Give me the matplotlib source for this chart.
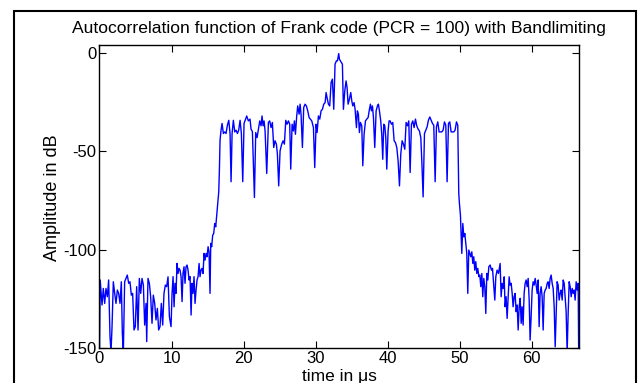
import numpy as np
import matplotlib
matplotlib.use('Agg')
import matplotlib.pyplot as plt
from matplotlib.patches import Rectangle

# Values (time in us, amplitude in dB)
# left sidelobe floor
t_floor_l = [0.0, 0.1, 0.35, 0.53, 0.72, 0.90, 1.09, 1.27, 1.46, 1.60, 1.74, 1.92,
             2.11, 2.29, 2.48, 2.66, 2.85, 3.03, 3.17, 3.31, 3.49, 3.68, 3.86, 4.05,
             4.23, 4.42, 4.60, 4.79, 4.97, 5.16, 5.35, 5.53, 5.72, 5.90, 6.09, 6.27,
             6.46, 6.55, 6.73, 6.92, 7.10, 7.29, 7.47, 7.66, 7.84, 8.03, 8.21, 8.40,
             8.58, 8.77, 8.95, 9.14, 9.32, 9.51, 9.70]
db_floor_l = [-152, -115.3, -128.0, -119.6, -127.2, -119.6, -123.8, -115.3, -144.1, -152,
              -139.0, -116.2, -122.1, -127.2, -120.4, -122.1, -127.2, -116.2, -142.4, -152,
              -116.2, -114.5, -112.8, -117.0, -116.2, -123.0, -122.1, -140.7, -139.0, -118.7,
              -140.7, -114.5, -122.1, -114.5, -117.9, -138.2, -127.2, -146.6, -114.5, -117.0,
              -123.8, -137.3, -123.0, -127.2, -135.6, -129.7, -140.7, -139.0, -127.2, -138.2,
              -122.1, -117.9, -118.7, -113.7, -133.9]

# rising edge
t_rise = [9.93, 10.07, 10.21, 10.35, 10.48, 10.62, 10.76, 10.90, 11.04, 11.18, 11.32,
          11.46, 11.59, 11.73, 11.87, 12.01, 12.15, 12.29, 12.43, 12.57, 12.71, 12.84,
          12.98, 13.12, 13.26, 13.40, 13.54, 13.68, 13.82, 13.95, 14.09, 14.23, 14.37,
          14.51, 14.65, 14.79, 14.93, 15.07, 15.20, 15.34, 15.44, 15.57, 15.71, 15.85,
          15.99, 16.13, 16.27, 16.36, 16.45, 16.55, 16.64, 16.73, 16.87, 17.01, 17.19,
          17.38, 17.56, 17.75, 17.94, 18.12, 18.26, 18.40, 18.58, 18.77, 18.95, 19.14,
          19.32, 19.51, 19.69, 19.88, 20.06]
db_rise = [-139.0, -122.1, -113.6, -128.9, -117.0, -122.1, -106.9, -112.0, -109.4, -110.3,
           -113.6, -126.3, -112.0, -108.6, -117.0, -108.6, -107.7, -110.3, -115.3, -113.6,
           -133.1, -117.0, -122.1, -113.6, -127.2, -120.4, -115.3, -113.6, -106.9, -113.6,
           -110.3, -109.4, -112.0, -101.8, -105.2, -101.8, -103.5, -98.4, -101.0, -122.1,
           -96.7, -98.4, -92.5, -91.7, -86.6, -88.3, -82.4, -79.0, -74.7, -70.5,
           -59.5, -44.3, -39.2, -35.8, -40.9, -40.1, -40.9, -36.7, -34.2, -40.9,
           -65.4, -40.9, -34.2, -40.1, -39.2, -40.9, -39.2, -34.2, -40.9, -65.4, -35.8]

# main part, left half up to the peak
t_main_l = [20.43, 20.66, 20.89, 21.03, 21.22, 21.50, 21.68, 21.87, 22.05, 22.24, 22.42,
            22.56, 22.70, 22.84, 22.98, 23.21, 23.44, 23.62, 23.81, 23.99, 24.18, 24.36,
            24.55, 24.69, 24.87, 25.06, 25.29, 25.48, 25.66, 25.85, 26.03, 26.22, 26.40,
            26.54, 26.73, 26.91, 27.05, 27.19, 27.37, 27.51, 27.70, 27.84, 27.97, 28.16,
            28.34, 28.53, 28.71, 28.90, 29.09, 29.27, 29.46, 29.69, 29.87, 30.06, 30.20,
            30.38, 30.57, 30.75, 30.94, 31.12, 31.31, 31.45, 31.58, 31.77, 31.95, 32.14,
            32.32, 32.51, 32.69, 32.88, 33.02, 33.20]
db_main_l = [-32.0, -34.5, -33.6, -38.7, -39.9, -73.4, -40.4, -43.0, -38.7, -34.5, -37.0,
             -32.0, -37.0, -34.5, -39.6, -61.2, -35.3, -34.5, -37.9, -35.3, -48.0, -44.6,
             -46.3, -51.4, -67.5, -49.7, -46.3, -44.6, -46.3, -34.2, -36.2, -34.5, -36.2,
             -59.0, -36.2, -39.6, -34.5, -41.3, -32.0, -26.9, -31.1, -26.0, -31.1, -48.0,
             -27.7, -26.0, -26.9, -29.4, -32.8, -33.6, -34.5, -37.9, -58.2, -36.2, -40.4,
             -32.0, -33.6, -29.4, -28.6, -26.0, -25.2, -20.1, -22.7, -26.0, -26.9, -15.0,
             -13.3, -28.6, -5.7, -4.0, -4.0, -0.3]

# main part, right half after the peak
t_main_r = [33.30, 33.43, 33.57, 33.71, 33.85, 34.04, 34.22, 34.36, 34.50, 34.68, 34.87,
            35.01, 35.15, 35.33, 35.47, 35.66, 35.79, 35.93, 36.07, 36.21, 36.40, 36.54,
            36.72, 36.91, 37.09, 37.28, 37.46, 37.60, 37.74, 37.88, 38.02, 38.20, 38.39,
            38.57, 38.71, 38.85, 39.03, 39.17, 39.31, 39.45, 39.59, 39.73, 39.87, 40.05,
            40.19, 40.33, 40.52, 40.70, 40.89, 41.07, 41.26, 41.44, 41.63, 41.81, 42.00,
            42.18, 42.37, 42.55, 42.74, 42.92, 43.11, 43.29, 43.48, 43.66, 43.85, 44.03,
            44.22, 44.40, 44.59, 44.73, 44.91, 45.10, 45.28, 45.47, 45.65, 45.84, 46.02,
            46.21, 46.39, 46.58, 46.76, 46.95, 47.13, 47.32, 47.50, 47.69, 47.87, 48.06,
            48.24, 48.43, 48.61, 48.80, 48.98, 49.17, 49.35, 49.54, 49.72]
db_main_r = [-3.2, -4.0, -4.9, -5.7, -28.6, -19.3, -14.2, -17.6, -26.0, -23.5, -20.1,
             -24.3, -26.9, -25.2, -28.6, -37.9, -29.4, -31.1, -40.4, -35.3, -37.0, -57.3,
             -41.3, -34.5, -33.6, -32.8, -28.6, -26.0, -29.4, -26.9, -32.8, -48.0, -29.4,
             -26.9, -26.0, -29.4, -34.5, -41.3, -54.0, -36.2, -37.0, -43.0, -59.0, -39.6,
             -34.5, -34.5, -36.2, -35.3, -44.6, -45.5, -48.0, -54.8, -67.5, -51.4, -44.6,
             -46.3, -48.9, -35.3, -37.0, -34.5, -60.7, -36.2, -34.5, -37.9, -33.6, -37.0,
             -38.7, -39.6, -43.0, -54.8, -73.1, -40.9, -39.2, -37.5, -34.1, -32.5, -34.1,
             -35.8, -36.7, -65.4, -37.5, -35.0, -40.1, -40.1, -40.1, -39.2, -35.0, -36.7,
             -65.4, -35.8, -35.0, -40.1, -40.1, -40.1, -39.2, -35.0, -36.7]

# falling edge and right floor
t_fall = [49.86, 49.95, 50.09, 50.28, 50.42, 50.56, 50.70, 50.83, 50.97, 51.11, 51.25,
          51.39, 51.53, 51.67, 51.81, 51.94, 52.08, 52.22, 52.36, 52.50, 52.64, 52.78,
          52.92, 53.06, 53.19, 53.33, 53.47, 53.61, 53.75, 53.89, 54.03, 54.21, 54.40,
          54.54, 54.72, 54.86, 55.00, 55.18, 55.37]
db_fall = [-71.4, -76.4, -82.4, -101.8, -86.6, -93.4, -91.7, -96.7, -101.8, -122.1, -100.1,
           -101.8, -103.5, -101.0, -106.9, -103.5, -110.3, -106.0, -112.0, -109.4, -113.6,
           -112.8, -118.7, -112.0, -123.8, -114.5, -118.7, -132.3, -112.0, -115.3, -108.6,
           -107.7, -110.3, -109.4, -118.7, -125.5, -113.6, -110.3, -112.0]

t_floor_r = [55.60, 55.74, 55.88, 56.02, 56.16, 56.29, 56.43, 56.57, 56.71, 56.85, 56.99,
             57.13, 57.27, 57.40, 57.54, 57.68, 57.82, 57.96, 58.10, 58.24, 58.38, 58.52,
             58.65, 58.79, 58.93, 59.07, 59.21, 59.35, 59.49, 59.63, 59.76, 59.90, 60.04,
             60.18, 60.32, 60.46, 60.60, 60.74, 60.88, 61.01, 61.15, 61.29, 61.43, 61.57,
             61.71, 61.85, 61.99, 62.13, 62.26, 62.40, 62.54, 62.68, 62.82, 62.96, 63.10,
             63.24, 63.37, 63.51, 63.65, 63.79, 63.93, 64.07, 64.21, 64.35, 64.49, 64.62,
             64.76, 64.90, 65.04, 65.18, 65.32, 65.46, 65.60, 65.73, 65.87, 66.01, 66.15,
             66.29, 66.43, 66.50]
db_floor_r = [-106.9, -123.8, -117.0, -119.6, -113.7, -128.9, -123.8, -134.8, -123.8, -113.7,
              -117.9, -117.0, -122.1, -128.9, -123.8, -122.1, -131.4, -128.0, -140.7, -128.9,
              -124.6, -137.3, -128.9, -138.2, -122.1, -117.0, -115.3, -118.7, -114.5, -125.5,
              -145.8, -134.0, -120.4, -116.2, -117.9, -114.5, -117.9, -122.1, -115.3, -139.0,
              -122.1, -118.7, -123.8, -140.7, -122.1, -120.4, -119.6, -117.0, -116.2, -119.6,
              -114.5, -112.8, -117.0, -119.6, -128.9, -149.2, -134.0, -116.2, -117.9, -125.5,
              -122.1, -120.4, -125.5, -115.3, -117.0, -123.8, -131.4, -152, -132.3, -116.2,
              -118.7, -123.8, -119.6, -122.1, -120.4, -125.5, -116.2, -120.4, -117.0, -152]

x_ticks = [0, 10, 20, 30, 40, 50, 60]
y_ticks = [-150, -100, -50, 0]
y_ticklabels = ['-150', '-100', '-50', '0']

time_us = np.concatenate([t_floor_l, t_rise, t_main_l, t_main_r, t_fall, t_floor_r])
amp_db = np.concatenate([db_floor_l, db_rise, db_main_l, db_main_r, db_fall, db_floor_r])

plt.rcParams['font.family'] = ['Liberation Sans', 'DejaVu Sans']

fig = plt.figure(figsize=(6.39, 3.83), dpi=100)
ax = fig.add_axes([0.1557, 0.0906, 0.7499, 0.7932])

ax.plot(time_us, amp_db, color='#0000ff', linewidth=1.0)

ax.set_xlim(0, 66.5)
ax.set_ylim(-150, 4.3)
ax.set_xticks(x_ticks)
ax.set_yticks(y_ticks)
ax.set_yticklabels(y_ticklabels)
ax.tick_params(direction='in', length=5, width=0.8, top=True, right=True,
               labelsize=12, pad=2, colors='black')
for s in ax.spines.values():
    s.set_linewidth(1.0)

ax.set_title('Autocorrelation function of Frank code (PCR = 100) with Bandlimiting',
             fontsize=12.6, pad=8)
ax.set_xlabel('time in \u03bcs', fontsize=12.5)
ax.xaxis.set_label_coords(0.5, -0.068)
ax.set_ylabel('Amplitude in dB', fontsize=13)
ax.yaxis.set_label_coords(-0.080, 0.496)

# outer frame, bottom edge falls outside the picture
fig.patches.append(Rectangle((14 / 639, -0.2), 622 / 639, 1.2 - 11 / 383,
                             transform=fig.transFigure, fill=False,
                             edgecolor='black', linewidth=1.5))

fig.savefig('out.png', dpi=100)
